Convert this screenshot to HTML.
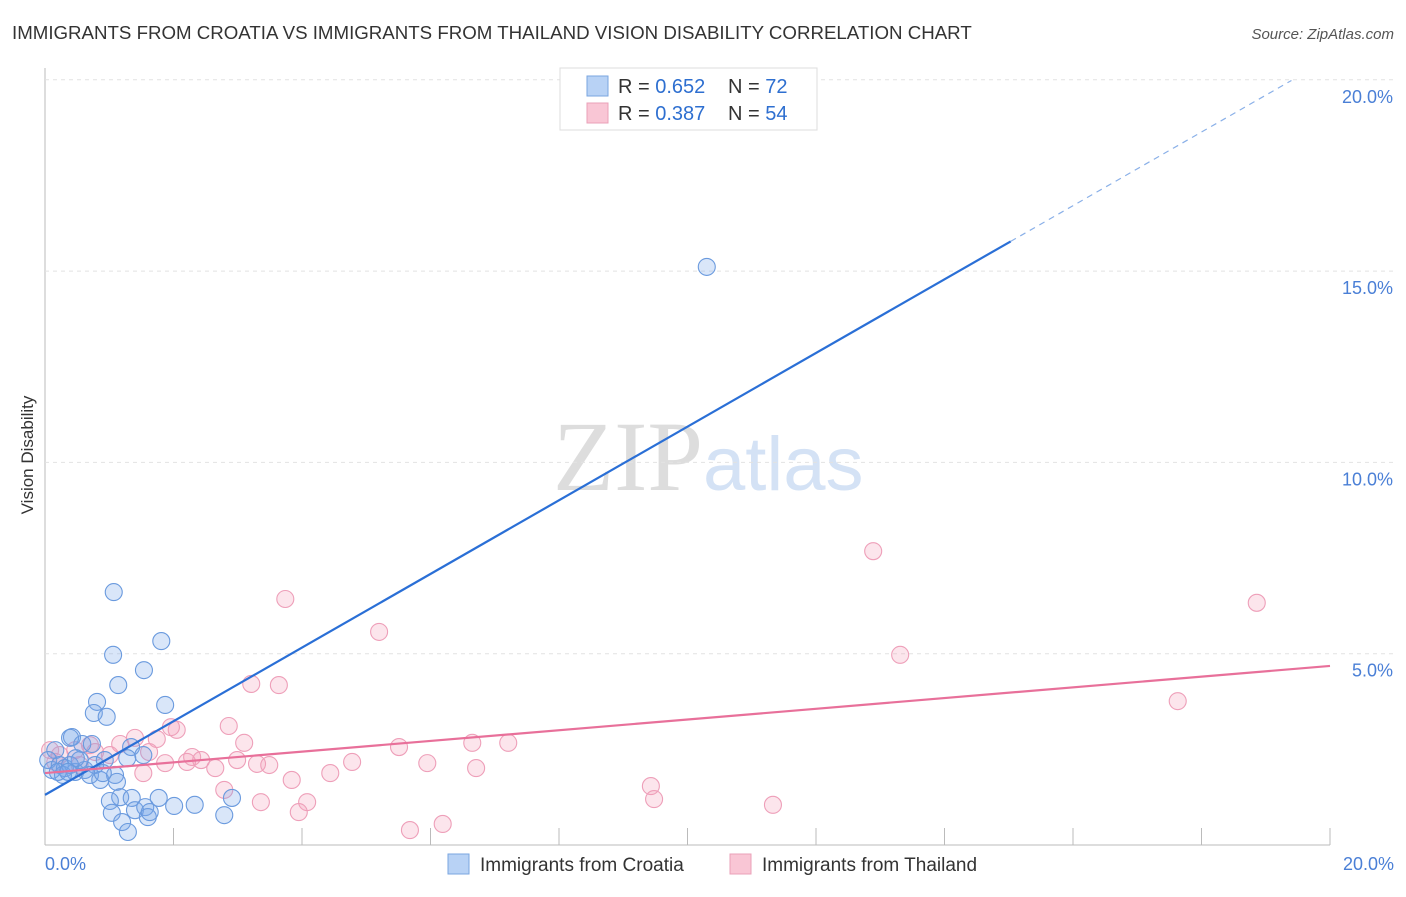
<!DOCTYPE html>
<html><head><meta charset="utf-8"><style>
body{margin:0;background:#fff;font-family:"Liberation Sans",sans-serif;}
svg text{font-family:"Liberation Sans",sans-serif;}
</style></head><body>
<svg id="chart" width="1406" height="892" xmlns="http://www.w3.org/2000/svg">
<text x="12" y="39" font-size="18.7" fill="#333">IMMIGRANTS FROM CROATIA VS IMMIGRANTS FROM THAILAND VISION DISABILITY CORRELATION CHART</text>
<text x="1394" y="39" font-size="15" fill="#555" text-anchor="end" font-style="italic">Source: ZipAtlas.com</text>
<text transform="translate(33,455) rotate(-90)" font-size="17" fill="#333" text-anchor="middle">Vision Disability</text>
<text x="553" y="490" font-size="100"><tspan fill="#ddd" font-family="Liberation Serif">ZIP</tspan><tspan fill="#d4e2f5" font-size="76">atlas</tspan></text>
<g id="grid"></g><g id="marks"></g><g id="lines"></g>
<g>
<rect x="560" y="68" width="257" height="62" fill="#fff" stroke="#ddd"/>
<rect x="587" y="76" width="21" height="20" fill="#b8d2f5" stroke="#7aa6e0"/>
<rect x="587" y="103" width="21" height="20" fill="#f9c6d5" stroke="#eaa0b8"/>
<text x="618" y="93" font-size="20" fill="#333">R = <tspan fill="#2e6fd0">0.652</tspan></text>
<text x="728" y="93" font-size="20" fill="#333">N = <tspan fill="#2e6fd0">72</tspan></text>
<text x="618" y="120" font-size="20" fill="#333">R = <tspan fill="#2e6fd0">0.387</tspan></text>
<text x="728" y="120" font-size="20" fill="#333">N = <tspan fill="#2e6fd0">54</tspan></text>
</g>
<g>
<rect x="448" y="854" width="21" height="20" fill="#b8d2f5" stroke="#7aa6e0"/>
<text x="480" y="871" font-size="19" fill="#333">Immigrants from Croatia</text>
<rect x="730" y="854" width="21" height="20" fill="#f9c6d5" stroke="#eaa0b8"/>
<text x="762" y="871" font-size="19" fill="#333">Immigrants from Thailand</text>
</g>
</svg>
<script>
const yTicks=[5,10,15,20];
const yTickLabels=["5.0%","10.0%","15.0%","20.0%"];
const xTickLabels=["0.0%","20.0%"];
const croatiaX=[10.30,1.07,1.81,1.06,1.54,1.14,1.87,0.81,0.76,0.96,0.42,0.39,0.58,0.73,1.34,1.53,0.16,0.05,0.11,0.23,0.31,0.47,0.62,0.78,0.93,0.54,0.70,0.86,1.09,1.12,1.28,1.17,1.01,1.35,1.77,1.04,1.40,1.56,1.60,1.63,1.20,1.29,2.01,2.33,2.79,2.91,0.90,0.28,0.20,0.39,0.48,0.36];
const croatiaY=[15.11,6.61,5.33,4.97,4.57,4.18,3.66,3.74,3.45,3.35,2.82,2.80,2.64,2.64,2.56,2.35,2.48,2.22,1.96,2.09,2.01,1.91,1.96,2.09,2.22,2.22,1.83,1.70,1.83,1.65,2.27,1.25,1.15,1.23,1.23,0.84,0.91,0.99,0.73,0.86,0.60,0.34,1.02,1.05,0.78,1.23,1.88,1.83,1.91,2.09,2.27,1.91];
const thaiX=[12.89,18.86,3.74,5.20,13.31,3.21,3.64,17.63,2.86,2.05,1.96,1.74,1.40,3.10,1.17,5.51,6.65,7.21,1.62,2.29,2.43,1.87,2.99,3.30,3.49,4.78,5.95,2.21,2.65,1.53,6.71,4.44,3.84,9.43,9.48,3.36,4.08,3.95,11.33,5.68,6.19,2.79,0.08,0.23,0.47,0.78,1.01,0.70,0.16,0.54];
const thaiY=[7.68,6.33,6.43,5.57,4.97,4.21,4.18,3.76,3.11,3.01,3.08,2.77,2.80,2.67,2.64,2.56,2.67,2.67,2.43,2.30,2.22,2.14,2.22,2.12,2.09,2.17,2.14,2.17,2.01,1.88,2.01,1.88,1.70,1.54,1.20,1.12,1.12,0.86,1.05,0.39,0.55,1.44,2.48,2.35,2.48,2.43,2.35,2.61,2.17,2.09];
const croatiaTrend=[1.31,20.56];
const thaiTrend=[1.88,4.68];
const NS="http://www.w3.org/2000/svg";
const X0=45,X1=1330,Y0=845,PX_PER=191.3/5;
const sx=v=>X0+(v/20)*(X1-X0);
const sy=v=>Y0-v*PX_PER;
function mk(tag,attrs,parent){const e=document.createElementNS(NS,tag);for(const k in attrs)e.setAttribute(k,attrs[k]);parent.appendChild(e);return e;}
const grid=document.getElementById('grid'),marks=document.getElementById('marks'),lines=document.getElementById('lines');
let ax=mk('line',{x1:X0,y1:68,x2:X0,y2:Y0,stroke:'#bbb'},grid);

let bx=mk('line',{x1:X0,y1:Y0,x2:X1,y2:Y0,stroke:'#bbb'},grid);

yTicks.forEach((t,i)=>{
 const g=mk('line',{x1:X0,y1:sy(t),x2:1394,y2:sy(t),stroke:'#e2e2e2','stroke-dasharray':'4,4'},grid);
 
 const l=mk('text',{x:1393,y:sy(t)+23,'font-size':18,fill:'#4a7fd6','text-anchor':'end'},grid);l.textContent=yTickLabels[i];
 
});
for(let i=1;i<=10;i++){const tk=mk('line',{x1:sx(i*2),y1:828,x2:sx(i*2),y2:Y0,stroke:'#bbb'},grid);
 }
[[0,'start',45],[20,'end',1394]].forEach((d,i)=>{const l=mk('text',{x:d[2],y:870,'font-size':18,fill:'#4a7fd6','text-anchor':d[1]},grid);l.textContent=xTickLabels[i];
 });
thaiX.forEach((x,i)=>{const c=mk('circle',{cx:sx(x),cy:sy(thaiY[i]),r:8.5,fill:'rgba(244,160,188,0.28)',stroke:'#ee9fb9','stroke-width':1.1},marks);
 });
croatiaX.forEach((x,i)=>{const c=mk('circle',{cx:sx(x),cy:sy(croatiaY[i]),r:8.5,fill:'rgba(120,165,235,0.28)',stroke:'#6a9ade','stroke-width':1.1},marks);
 });
const bxEnd=15.03, bFn=x=>croatiaTrend[0]+(croatiaTrend[1]-croatiaTrend[0])*x/20;
let l1=mk('line',{x1:sx(0),y1:sy(bFn(0)),x2:sx(bxEnd),y2:sy(bFn(bxEnd)),stroke:'#2a6fd6','stroke-width':2.2},lines);

let l2=mk('line',{x1:sx(bxEnd),y1:sy(bFn(bxEnd)),x2:sx(19.4),y2:sy(bFn(19.4)),stroke:'#8ab0e8','stroke-width':1.2,'stroke-dasharray':'6,5'},lines);

let l3=mk('line',{x1:sx(0),y1:sy(thaiTrend[0]),x2:sx(20),y2:sy(thaiTrend[1]),stroke:'#e8709a','stroke-width':2.2},lines);

</script>
</body></html>
